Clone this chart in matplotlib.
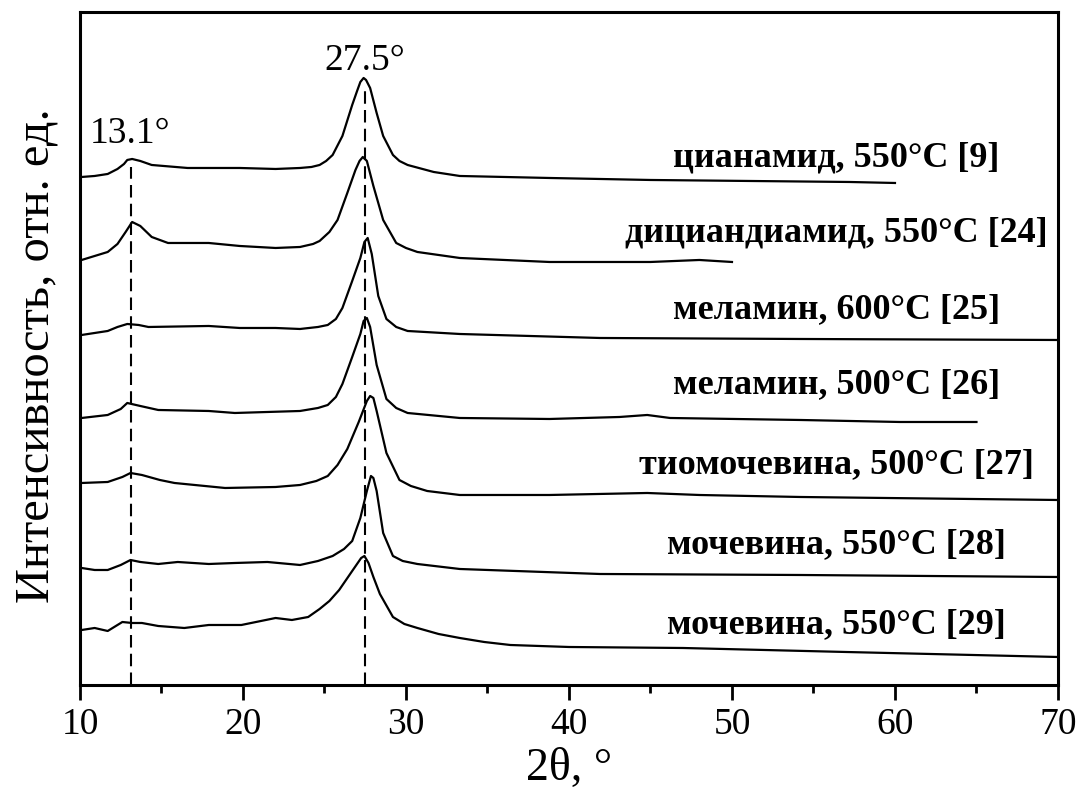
import matplotlib
matplotlib.use('Agg')
import matplotlib.pyplot as plt
from matplotlib.ticker import MultipleLocator

plt.rcParams['font.family'] = ['Liberation Serif', 'DejaVu Serif']

# XRD patterns (intensity in arbitrary units, curves already stacked)
x_cyan = [10.1, 10.9, 11.7, 12.3, 12.7, 12.9, 13.2, 13.7, 14.4, 16.6, 19.8, 22.0, 23.5, 24.2, 24.7,
          25.1, 25.5, 26.1, 26.7, 27.0, 27.2, 27.4, 27.55, 27.8, 28.2, 28.6, 29.2, 29.6, 30.1, 31.7,
          33.3, 38.8, 45.0, 51.1, 57.2, 60.0]
y_cyan = [508, 509, 511, 516, 521, 525, 526, 524, 520, 517, 517, 516, 517, 518, 520,
          524, 530, 549, 580, 594, 603, 607, 605, 597, 572, 549, 530, 524, 520, 513,
          509, 507, 505, 504, 503, 502]

x_dcda = [10.1, 11.7, 12.3, 12.8, 13.2, 13.7, 14.4, 15.4, 17.9, 19.8, 22.0, 23.5, 24.3, 24.7, 25.3,
          25.8, 26.4, 26.9, 27.15, 27.35, 27.6, 28.0, 28.6, 29.4, 30.0, 30.7, 33.3, 38.8, 45.0, 48.0,
          50.0]
y_dcda = [425, 433, 441, 453, 463, 459, 448, 442, 442, 439, 437, 438, 441, 444, 453,
          465, 492, 515, 524, 528, 524, 499, 465, 442, 437, 433, 427, 423, 423, 425,
          423]

x_mel600 = [10.1, 11.7, 12.3, 12.9, 13.6, 14.2, 17.9, 19.8, 22.0, 23.5, 24.6, 25.2, 25.7, 26.1, 26.7,
            27.2, 27.45, 27.65, 27.9, 28.3, 28.8, 29.4, 30.1, 33.3, 41.9, 54.2, 70.0]
y_mel600 = [350, 354, 358, 361, 360, 358, 359, 357, 357, 356, 358, 360, 366, 377, 404,
            427, 443, 447, 431, 389, 366, 358, 354, 351, 347, 346, 345]

x_mel500 = [10.1, 11.7, 12.5, 12.9, 13.7, 14.8, 17.9, 19.5, 21.5, 23.5, 24.6, 25.2, 25.7, 26.1, 26.7,
            27.2, 27.4, 27.6, 27.8, 28.2, 28.8, 29.4, 30.1, 33.3, 38.8, 43.1, 44.8, 46.2, 54.2, 60.3,
            65.0]
y_mel500 = [267, 270, 276, 282, 279, 275, 274, 272, 273, 274, 277, 280, 288, 301, 328,
            351, 364, 367, 358, 320, 286, 277, 272, 267, 266, 268, 270, 267, 265, 263,
            263]

x_thio = [10.1, 11.7, 12.6, 13.1, 13.8, 14.9, 15.8, 18.9, 22.0, 23.5, 24.5, 25.2, 25.8, 26.4, 27.1,
          27.6, 27.8, 28.0, 28.2, 28.8, 29.6, 30.3, 31.3, 33.3, 38.8, 44.8, 48.0, 54.2, 70.0]
y_thio = [202, 203, 208, 212, 210, 205, 202, 197, 198, 200, 204, 209, 220, 236, 263,
          284, 289, 287, 274, 232, 205, 199, 194, 190, 190, 192, 190, 188, 185]

x_urea28 = [10.1, 10.9, 11.7, 12.5, 13.1, 13.7, 14.8, 16.0, 17.9, 19.5, 21.5, 23.5, 24.6, 25.5, 26.2,
            26.7, 27.2, 27.6, 27.85, 28.0, 28.2, 28.6, 29.2, 29.8, 30.7, 33.3, 41.9, 54.2, 70.0]
y_urea28 = [117, 115, 115, 120, 125, 123, 121, 123, 121, 122, 123, 120, 124, 129, 136,
            144, 167, 194, 209, 207, 194, 152, 129, 124, 121, 116, 111, 110, 108]

x_urea29 = [10.1, 10.9, 11.7, 12.6, 13.2, 13.8, 14.8, 16.4, 17.9, 19.9, 22.0, 23.0, 24.0, 24.7, 25.3,
            25.9, 26.7, 27.25, 27.45, 27.7, 28.0, 28.4, 29.2, 29.9, 30.7, 32.0, 33.3, 34.8, 36.4, 40.0,
            47.0, 57.0, 70.0]
y_urea29 = [55, 57, 54, 63, 62, 62, 59, 57, 60, 60, 67, 65, 68, 76, 84,
            95, 114, 127, 129, 122, 108, 91, 68, 61, 57, 51, 47, 43, 40, 38,
            37, 33, 28]

labels = ['цианамид, 550°C [9]', 'дициандиамид, 550°C [24]', 'меламин, 600°C [25]',
          'меламин, 500°C [26]', 'тиомочевина, 500°C [27]', 'мочевина, 550°C [28]',
          'мочевина, 550°C [29]']
label_y = [527, 452, 375, 300, 220, 140, 60]

peaks = [13.1, 27.5]
peak_tops = [518, 597]
peak_text = ['13.1°', '27.5°']
peak_text_y = [542, 615]

curves = [(x_cyan, y_cyan), (x_dcda, y_dcda), (x_mel600, y_mel600), (x_mel500, y_mel500),
          (x_thio, y_thio), (x_urea28, y_urea28), (x_urea29, y_urea29)]

fig = plt.figure(figsize=(10.81, 7.93), dpi=100)
ax = fig.add_axes([0.074, 0.1362, 0.9047, 0.8487])

for (xs, ys), lab, ly in zip(curves, labels, label_y):
    ax.plot(xs, ys, color='black', lw=1.6)
    ax.text(56.4, ly, lab, ha='center', va='center', fontsize=26, fontweight='bold')

for p, top, t, ty in zip(peaks, peak_tops, peak_text, peak_text_y):
    ax.plot([p, p], [0, top], color='black', lw=1.5, dashes=(6, 3))
    ax.text(p, ty, t, ha='center', va='baseline', fontsize=27)

ax.set_xlim(10, 70)
ax.set_ylim(0, 673)
ax.xaxis.set_major_locator(MultipleLocator(10))
ax.xaxis.set_minor_locator(MultipleLocator(5))
ax.set_yticks([])
ax.tick_params(axis='x', which='major', direction='out', length=11, width=2, labelsize=27, pad=5)
ax.tick_params(axis='x', which='minor', direction='out', length=6, width=2)
for s in ax.spines.values():
    s.set_linewidth(2.2)

ax.set_xlabel('2θ, °', fontsize=33, labelpad=4)
ax.set_ylabel('Интенсивность, отн. ед.', fontsize=35)
ax.yaxis.set_label_coords(-0.022, 0.49)

fig.savefig('out.png', dpi=100)
